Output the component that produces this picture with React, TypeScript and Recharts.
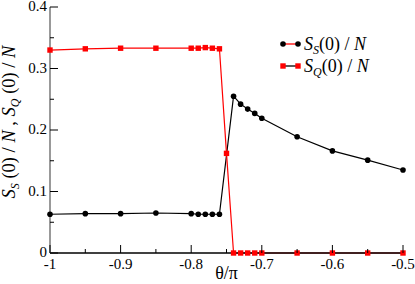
import React from 'react';
import { LineChart, Line, XAxis, YAxis, Legend } from 'recharts';

const theta = [-1, -0.95, -0.9, -0.85, -0.8, -0.79, -0.78, -0.77, -0.76, -0.75, -0.74, -0.73, -0.72, -0.71, -0.7, -0.65, -0.6, -0.55, -0.5];
const spinS = [0.063, 0.064, 0.064, 0.065, 0.064, 0.063, 0.063, 0.063, 0.063, null, 0.255, 0.242, 0.234, 0.227, 0.219, 0.189, 0.166, 0.151, 0.135];
const quadQ = [0.330, 0.332, 0.333, 0.333, 0.333, 0.333, 0.334, 0.333, 0.332, 0.162, 0, 0, 0, 0, 0, 0, 0, 0, 0];

const xTicks = [-1, -0.95, -0.9, -0.85, -0.8, -0.75, -0.7, -0.65, -0.6, -0.55, -0.5];
const yTicks = [0, 0.05, 0.1, 0.15, 0.2, 0.25, 0.3, 0.35, 0.4];
const legendSubs = ['S', 'Q'];

const data = theta.map((t, i) => ({ theta: t, ss: spinS[i], sq: quadQ[i] }));

const FONT = '"Liberation Serif", "Times New Roman", serif';
const serif = { fontFamily: FONT };

const isMajor = (v: number) => Math.abs(v * 10 - Math.round(v * 10)) < 1e-6;
const fmt = (v: number) => String(Math.round(v * 10) / 10);

const BottomTick = (props: any) => {
  const { x, y, payload } = props;
  const major = isMajor(payload.value);
  return (
    <g>
      <line x1={x} x2={x} y1={y} y2={y - (major ? 8 : 4)} stroke="#000" strokeWidth={1} />
      {major && (
        <text x={x} y={y + 16} textAnchor="middle" fontSize={15} style={serif} fill="#000">
          {fmt(payload.value)}
        </text>
      )}
    </g>
  );
};

const TopTick = (props: any) => {
  const { x, y, payload } = props;
  const major = isMajor(payload.value);
  return <line x1={x} x2={x} y1={y} y2={y + (major ? 8 : 4)} stroke="#000" strokeWidth={1} />;
};

const LeftTick = (props: any) => {
  const { x, y, payload } = props;
  const major = isMajor(payload.value);
  return (
    <g>
      <line x1={x} x2={x + (major ? 8 : 4)} y1={y} y2={y} stroke="#000" strokeWidth={1} />
      {major && (
        <text x={x - 3} y={y + 4} textAnchor="end" fontSize={15} style={serif} fill="#000">
          {fmt(payload.value)}
        </text>
      )}
    </g>
  );
};

const RightTick = (props: any) => {
  const { x, y, payload } = props;
  const major = isMajor(payload.value);
  return <line x1={x} x2={x - (major ? 8 : 4)} y1={y} y2={y} stroke="#000" strokeWidth={1} />;
};

const YLabel = (props: any) => {
  const { viewBox } = props;
  const cx = viewBox.x + 15;
  const cy = viewBox.y + viewBox.height / 2 - 8;
  return (
    <text
      x={cx}
      y={cy}
      transform={`rotate(-90 ${cx} ${cy})`}
      textAnchor="middle"
      fontSize={18.5}
      style={serif}
      fill="#000"
    >
      <tspan fontStyle="italic">S</tspan>
      <tspan fontStyle="italic" fontSize={12} dy={4}>S</tspan>
      <tspan dy={-4}> (0) / </tspan>
      <tspan fontStyle="italic">N</tspan>
      <tspan> ,  </tspan>
      <tspan fontStyle="italic">S</tspan>
      <tspan fontStyle="italic" fontSize={12} dy={4}>Q</tspan>
      <tspan dy={-4}> (0) / </tspan>
      <tspan fontStyle="italic">N</tspan>
    </text>
  );
};

const XLabel = (props: any) => {
  const { viewBox } = props;
  return (
    <text x={viewBox.x + viewBox.width / 2} y={viewBox.y + 26} textAnchor="middle" fontSize={18} style={serif} fill="#000">
      θ/π
    </text>
  );
};

const SquareDot = (props: any) => {
  const { cx, cy, index } = props;
  if (cx == null || cy == null) return <g key={`sq-${index}`} />;
  return <rect key={`sq-${index}`} x={cx - 2.7} y={cy - 2.7} width={5.4} height={5.4} fill="#ff0000" />;
};

const LegendBox = (props: any) => {
  const { payload } = props;
  return (
    <svg width={125} height={46} style={{ display: 'block' }}>
      {(payload || []).map((entry: any, i: number) => {
        const cy = 10 + i * 22;
        return (
          <g key={entry.value}>
            <line x1={3} x2={18} y1={cy} y2={cy} stroke={entry.color} strokeWidth={1.3} />
            {i === 0 ? (
              <>
                <circle cx={3} cy={cy} r={2.8} fill="#000" />
                <circle cx={18} cy={cy} r={2.8} fill="#000" />
              </>
            ) : (
              <>
                <rect x={0.3} y={cy - 2.7} width={5.4} height={5.4} fill="#ff0000" />
                <rect x={15.3} y={cy - 2.7} width={5.4} height={5.4} fill="#ff0000" />
              </>
            )}
            <text x={24} y={cy + 6} fontSize={18} style={serif} fill="#000">
              <tspan fontStyle="italic">S</tspan>
              <tspan fontStyle="italic" fontSize={12} dy={4}>{legendSubs[i]}</tspan>
              <tspan dy={-4}>(0) / </tspan>
              <tspan fontStyle="italic">N</tspan>
            </text>
          </g>
        );
      })}
    </svg>
  );
};

export default function App() {
  return (
    <div style={{ position: 'absolute', left: 0, top: 0, background: '#fff', fontFamily: FONT }}>
      <LineChart width={415} height={284} data={data} margin={{ top: 7, right: 12, bottom: 0, left: 0 }}>
        <XAxis
          dataKey="theta"
          type="number"
          domain={[-1, -0.5]}
          ticks={xTicks}
          interval={0}
          tickSize={0}
          tickMargin={0}
          tickLine={false}
          tick={<BottomTick />}
          height={31}
          axisLine={{ stroke: '#000', strokeWidth: 1.4 }}
          label={{ content: <XLabel /> }}
        />
        <XAxis
          xAxisId="top"
          orientation="top"
          type="number"
          domain={[-1, -0.5]}
          ticks={xTicks}
          interval={0}
          tickSize={0}
          tickMargin={0}
          tickLine={false}
          tick={<TopTick />}
          height={0}
          axisLine={{ stroke: '#000', strokeWidth: 1.4 }}
        />
        <YAxis
          type="number"
          domain={[0, 0.4]}
          ticks={yTicks}
          interval={0}
          tickSize={0}
          tickMargin={0}
          tickLine={false}
          tick={<LeftTick />}
          width={50}
          axisLine={{ stroke: '#555', strokeWidth: 1.2 }}
          label={{ content: <YLabel /> }}
        />
        <YAxis
          yAxisId="right"
          orientation="right"
          type="number"
          domain={[0, 0.4]}
          ticks={yTicks}
          interval={0}
          tickSize={0}
          tickMargin={0}
          tickLine={false}
          tick={<RightTick />}
          width={0}
          axisLine={{ stroke: '#555', strokeWidth: 1.2 }}
        />
        <Legend
          layout="vertical"
          align="center"
          verticalAlign="middle"
          content={<LegendBox />}
          wrapperStyle={{ position: 'absolute', left: 280, top: 34, width: 125, height: 46 }}
        />
        <Line
          name="SS(0) / N"
          dataKey="ss"
          stroke="#000"
          strokeWidth={1.2}
          dot={{ r: 2.8, fill: '#000', stroke: 'none' }}
          activeDot={false}
          connectNulls
          isAnimationActive={false}
        />
        <Line
          name="SQ(0) / N"
          dataKey="sq"
          stroke="#ff0000"
          strokeWidth={1.2}
          dot={<SquareDot />}
          activeDot={false}
          isAnimationActive={false}
        />
      </LineChart>
    </div>
  );
}
